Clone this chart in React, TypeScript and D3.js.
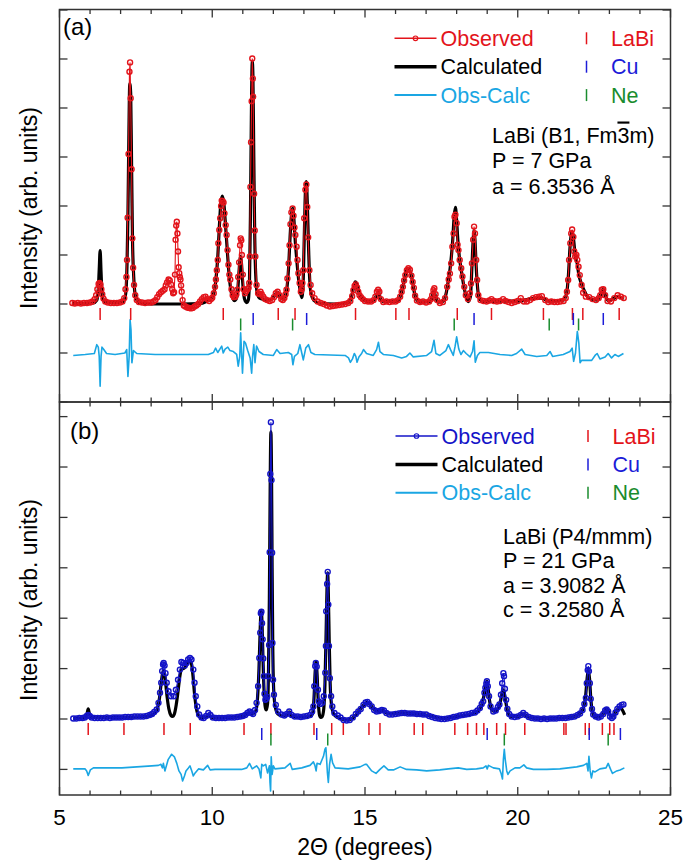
import React from "react";
import * as d3 from "d3";

// ---------------- DATA ----------------
const X_DOMAIN = [5, 25];
const X_TICK_LABELS = [5, 10, 15, 20, 25];
const X_MINOR = d3.range(5, 26, 1);

const Y_DOMAIN_A = [-2, 6.01];
const Y_TICKS_A = [-2, -1, 0, 1, 2, 3, 4, 5, 6];
const Y_DOMAIN_B = [-1.508, 6.29];
const Y_TICKS_B = [-1, 0, 1, 2, 3, 4, 5, 6];

// Panel (a): LaBi B1, 7 GPa
const OBS_A: [number, number][] = [
  [5.42,0.02],[5.5,0.01],[5.6,0.02],[5.7,0.01],[5.8,0.02],[5.9,0.02],[6.0,0.03],[6.08,0.05],[6.15,0.1],[6.2,0.18],[6.24,0.3],[6.28,0.41],[6.31,0.43],[6.34,0.4],[6.37,0.3],[6.4,0.2],[6.44,0.11],[6.5,0.05],[6.58,0.03],[6.68,0.02],[6.78,0.02],[6.88,0.02],[6.98,0.03],[7.06,0.05],[7.12,0.12],[7.16,0.3],[7.19,0.55],[7.21,0.9],[7.23,1.76],[7.26,3.06],[7.29,4.74],[7.31,4.93],[7.33,4.2],[7.36,2.75],[7.385,1.34],[7.41,0.74],[7.44,0.39],[7.48,0.18],[7.53,0.08],[7.6,0.04],[7.7,0.03],[7.8,0.02],[7.9,0.03],[8.0,0.03],[8.08,0.05],[8.14,0.08],[8.2,0.14],[8.26,0.2],[8.32,0.24],[8.38,0.27],[8.44,0.3],[8.48,0.38],[8.52,0.44],[8.57,0.5],[8.61,0.48],[8.65,0.4],[8.69,0.3],[8.72,0.22],[8.75,0.24],[8.78,0.6],[8.8,1.31],[8.82,1.6],[8.84,1.68],[8.86,1.44],[8.88,1.07],[8.9,0.75],[8.92,0.63],[8.94,0.55],[8.96,0.5],[8.98,0.38],[9.0,0.25],[9.03,0.08],[9.07,-0.03],[9.12,-0.05],[9.18,-0.07],[9.24,-0.08],[9.3,-0.09],[9.36,-0.08],[9.42,-0.05],[9.48,-0.03],[9.54,0.0],[9.6,0.05],[9.66,0.1],[9.72,0.14],[9.78,0.15],[9.84,0.1],[9.9,0.06],[9.96,0.1],[10.0,0.13],[10.05,0.22],[10.09,0.35],[10.12,0.5],[10.15,0.69],[10.18,0.9],[10.2,1.24],[10.23,1.51],[10.26,1.75],[10.29,2.0],[10.31,2.11],[10.34,2.1],[10.37,2.07],[10.4,1.85],[10.44,1.61],[10.47,1.41],[10.5,1.1],[10.53,0.8],[10.56,0.6],[10.59,0.5],[10.63,0.3],[10.67,0.18],[10.71,0.14],[10.75,0.15],[10.79,0.2],[10.82,0.29],[10.85,0.55],[10.88,0.85],[10.91,1.2],[10.93,1.34],[10.95,1.3],[10.97,1.0],[11.0,0.6],[11.03,0.3],[11.07,0.22],[11.11,0.26],[11.15,0.3],[11.19,0.33],[11.21,0.43],[11.23,0.97],[11.25,2.39],[11.27,3.3],[11.29,4.14],[11.31,5.01],[11.33,4.6],[11.34,4.23],[11.37,2.25],[11.39,1.5],[11.41,0.97],[11.45,0.39],[11.5,0.22],[11.55,0.2],[11.58,0.25],[11.62,0.2],[11.67,0.15],[11.73,0.1],[11.8,0.08],[11.88,0.06],[11.96,0.08],[12.02,0.14],[12.08,0.22],[12.14,0.25],[12.2,0.18],[12.26,0.1],[12.31,0.08],[12.36,0.12],[12.4,0.2],[12.43,0.29],[12.46,0.52],[12.5,0.83],[12.53,1.2],[12.56,1.63],[12.59,1.87],[12.63,1.95],[12.66,1.8],[12.69,1.56],[12.72,1.41],[12.76,1.17],[12.79,0.9],[12.82,0.63],[12.86,0.43],[12.9,0.25],[12.93,0.3],[12.95,0.43],[12.98,0.69],[13.01,1.75],[13.05,2.33],[13.08,2.44],[13.11,1.98],[13.14,1.36],[13.18,0.69],[13.22,0.39],[13.27,0.22],[13.35,0.12],[13.45,0.05],[13.55,0.02],[13.65,0.0],[13.75,-0.03],[13.85,-0.05],[13.95,-0.04],[14.05,-0.03],[14.15,-0.02],[14.25,-0.01],[14.35,0.0],[14.45,0.02],[14.52,0.06],[14.58,0.16],[14.62,0.28],[14.66,0.37],[14.7,0.4],[14.74,0.34],[14.78,0.25],[14.82,0.18],[14.87,0.14],[14.93,0.1],[15.0,0.06],[15.1,0.05],[15.2,0.05],[15.28,0.08],[15.34,0.15],[15.39,0.25],[15.43,0.29],[15.47,0.25],[15.52,0.1],[15.6,0.04],[15.7,0.05],[15.8,0.04],[15.9,0.05],[16.0,0.05],[16.08,0.08],[16.15,0.15],[16.2,0.25],[16.24,0.35],[16.28,0.48],[16.32,0.59],[16.37,0.69],[16.42,0.73],[16.47,0.7],[16.52,0.58],[16.56,0.45],[16.6,0.33],[16.64,0.17],[16.7,0.07],[16.8,0.04],[16.9,0.05],[17.0,0.03],[17.1,0.05],[17.16,0.1],[17.2,0.18],[17.24,0.28],[17.27,0.32],[17.31,0.2],[17.36,0.08],[17.45,0.02],[17.55,0.04],[17.62,0.12],[17.69,0.35],[17.74,0.5],[17.78,0.62],[17.82,0.83],[17.86,1.17],[17.9,1.44],[17.93,1.78],[17.96,1.82],[18.0,1.65],[18.03,1.21],[18.06,1.1],[18.1,0.9],[18.15,0.73],[18.19,0.56],[18.25,0.35],[18.3,0.18],[18.37,0.1],[18.43,0.22],[18.47,0.42],[18.5,0.83],[18.54,1.31],[18.57,1.58],[18.6,1.44],[18.64,0.9],[18.67,0.49],[18.71,0.18],[18.78,0.08],[18.88,0.06],[18.98,0.05],[19.07,0.07],[19.14,0.1],[19.22,0.06],[19.32,0.05],[19.42,0.06],[19.52,0.1],[19.6,0.06],[19.7,0.04],[19.8,0.02],[19.9,0.04],[20.0,0.06],[20.1,0.12],[20.2,0.05],[20.3,0.05],[20.4,0.08],[20.5,0.12],[20.6,0.14],[20.7,0.15],[20.79,0.16],[20.9,0.08],[21.0,0.04],[21.1,0.05],[21.2,0.04],[21.3,0.04],[21.4,0.05],[21.5,0.06],[21.57,0.12],[21.61,0.25],[21.65,0.49],[21.68,0.9],[21.72,1.24],[21.75,1.44],[21.78,1.52],[21.82,1.37],[21.85,1.07],[21.88,0.97],[21.92,1.0],[21.95,0.9],[21.99,0.76],[22.03,0.59],[22.09,0.39],[22.14,0.23],[22.23,0.15],[22.34,0.14],[22.45,0.1],[22.56,0.08],[22.65,0.12],[22.7,0.18],[22.75,0.29],[22.8,0.3],[22.86,0.18],[22.94,0.06],[23.05,0.05],[23.16,0.12],[23.27,0.18],[23.38,0.15],[23.47,0.12]
];
const CALC_A: [number, number][] = [
  [5.42,0.01],[6.1,0.02],[6.22,0.08],[6.27,0.3],[6.3,0.7],[6.33,1.09],[6.36,0.65],[6.39,0.25],[6.44,0.08],[6.55,0.03],[7.05,0.03],[7.13,0.1],[7.18,0.3],[7.21,0.8],[7.24,1.8],[7.27,3.4],[7.3,4.5],[7.33,4.3],[7.36,2.8],[7.39,1.3],[7.43,0.55],[7.48,0.18],[7.55,0.06],[7.65,0.02],[8.0,0.0],[9.0,0.0],[9.6,0.01],[9.8,0.05],[9.95,0.1],[10.05,0.22],[10.12,0.5],[10.18,0.95],[10.23,1.55],[10.28,2.05],[10.33,2.2],[10.38,2.05],[10.43,1.65],[10.48,1.2],[10.53,0.75],[10.58,0.42],[10.64,0.18],[10.72,0.07],[10.78,0.1],[10.83,0.25],[10.87,0.6],[10.91,0.92],[10.93,0.97],[10.96,0.8],[10.99,0.5],[11.03,0.2],[11.08,0.06],[11.13,0.03],[11.18,0.08],[11.22,0.5],[11.25,1.8],[11.28,3.8],[11.31,4.95],[11.33,4.7],[11.36,3.0],[11.39,1.4],[11.43,0.5],[11.48,0.2],[11.55,0.12],[11.65,0.1],[11.8,0.08],[11.95,0.1],[12.05,0.18],[12.14,0.24],[12.22,0.15],[12.3,0.1],[12.38,0.15],[12.44,0.3],[12.5,0.75],[12.55,1.4],[12.59,1.8],[12.63,1.95],[12.67,1.75],[12.71,1.35],[12.76,0.95],[12.81,0.6],[12.87,0.3],[12.93,0.13],[12.97,0.35],[13.01,1.3],[13.05,2.3],[13.08,2.5],[13.11,2.1],[13.15,1.2],[13.19,0.5],[13.24,0.2],[13.32,0.08],[13.5,0.02],[14.0,0.0],[14.45,0.02],[14.55,0.12],[14.62,0.32],[14.68,0.45],[14.72,0.42],[14.78,0.28],[14.86,0.15],[14.95,0.08],[15.1,0.05],[15.3,0.08],[15.4,0.22],[15.44,0.26],[15.5,0.12],[15.6,0.05],[16.05,0.06],[16.15,0.15],[16.25,0.38],[16.33,0.62],[16.4,0.72],[16.47,0.68],[16.55,0.48],[16.62,0.22],[16.7,0.08],[16.8,0.04],[17.15,0.06],[17.22,0.2],[17.26,0.26],[17.31,0.15],[17.4,0.04],[17.55,0.05],[17.65,0.2],[17.72,0.45],[17.8,0.8],[17.87,1.3],[17.92,1.8],[17.96,1.97],[18.0,1.7],[18.04,1.3],[18.09,0.95],[18.15,0.7],[18.22,0.42],[18.3,0.18],[18.38,0.05],[18.45,0.15],[18.5,0.75],[18.54,1.3],[18.57,1.5],[18.6,1.3],[18.64,0.75],[18.69,0.3],[18.75,0.1],[18.9,0.05],[19.5,0.06],[20.0,0.06],[20.6,0.12],[20.8,0.12],[21.0,0.06],[21.5,0.08],[21.6,0.22],[21.66,0.6],[21.71,1.15],[21.76,1.45],[21.79,1.47],[21.83,1.3],[21.88,1.0],[21.94,0.85],[22.0,0.6],[22.08,0.42],[22.17,0.28],[22.28,0.15],[22.4,0.1],[22.6,0.08],[22.72,0.2],[22.8,0.3],[22.88,0.15],[22.98,0.06],[23.1,0.1],[23.25,0.15],[23.38,0.13],[23.47,0.1]
];
const DIFF_A: [number, number][] = [
  [5.45,-0.05],[5.84,-0.03],[6.14,-0.01],[6.22,0.17],[6.27,0.12],[6.3,-0.07],[6.33,-0.68],[6.36,-0.07],[6.39,0.12],[6.45,0.07],[6.54,-0.01],[6.82,-0.03],[7.14,0.0],[7.2,0.07],[7.24,-0.48],[7.28,-0.07],[7.31,0.68],[7.34,0.48],[7.37,-0.2],[7.42,0.05],[7.53,-0.01],[8.13,-0.03],[9.87,-0.03],[10.04,0.01],[10.11,0.1],[10.18,0.01],[10.25,0.08],[10.31,0.14],[10.36,0.0],[10.42,0.08],[10.51,0.12],[10.58,0.05],[10.69,0.03],[10.8,-0.03],[10.85,-0.27],[10.9,-0.07],[10.93,0.41],[10.96,0.0],[10.99,-0.41],[11.04,0.24],[11.09,0.2],[11.16,0.05],[11.24,-0.1],[11.29,-0.41],[11.32,-0.07],[11.36,0.17],[11.4,-0.2],[11.45,0.14],[11.53,0.03],[11.67,-0.03],[12.0,-0.05],[12.11,0.07],[12.22,-0.01],[12.49,0.01],[12.6,-0.03],[12.64,-0.24],[12.69,-0.07],[12.8,-0.01],[12.87,0.17],[12.93,0.0],[12.98,-0.14],[13.06,0.1],[13.15,0.17],[13.23,0.01],[13.36,-0.03],[14.35,-0.05],[14.46,-0.1],[14.52,-0.19],[14.59,-0.12],[14.65,-0.01],[14.7,-0.07],[14.74,-0.19],[14.8,-0.08],[14.89,-0.01],[14.95,0.07],[15.05,-0.01],[15.27,-0.05],[15.38,0.07],[15.44,0.22],[15.49,0.03],[15.6,-0.03],[15.93,-0.05],[16.2,-0.1],[16.36,-0.07],[16.47,0.0],[16.58,-0.08],[17.02,-0.05],[17.18,0.03],[17.26,0.26],[17.32,-0.01],[17.45,-0.05],[17.65,0.05],[17.73,0.17],[17.8,0.07],[17.89,-0.05],[17.95,0.14],[18.0,0.33],[18.07,0.08],[18.14,-0.03],[18.22,0.05],[18.31,-0.01],[18.44,-0.08],[18.52,0.03],[18.57,0.25],[18.61,-0.19],[18.68,-0.05],[18.76,0.01],[19.04,0.01],[19.42,-0.03],[19.8,-0.05],[19.96,-0.01],[20.13,0.08],[20.24,-0.03],[20.62,-0.07],[20.95,-0.05],[21.06,0.03],[21.14,-0.07],[21.49,-0.03],[21.71,0.03],[21.78,0.1],[21.83,-0.17],[21.89,0.0],[21.95,0.44],[22.0,0.2],[22.04,-0.2],[22.09,-0.15],[22.26,-0.15],[22.42,-0.15],[22.53,-0.05],[22.6,-0.01],[22.69,-0.12],[22.86,-0.08],[22.96,-0.01],[23.07,-0.1],[23.18,-0.03],[23.29,-0.07],[23.46,-0.01]
];
const LABI_A = [6.33, 7.33, 10.36, 12.16, 12.71, 14.69, 16.01, 16.44, 18.02, 19.14, 20.84, 21.79, 22.13, 23.32];
const CU_A = [11.34, 13.09, 18.57, 21.82, 22.8];
const NE_A = [10.93, 12.63, 17.92, 21.03, 21.99];

// Panel (b): LaBi P4/mmm, 21 GPa
const OBS_B: [number, number][] = [
  [5.45,0.01],[5.55,0.01],[5.65,0.02],[5.75,0.02],[5.83,0.03],[5.89,0.06],[5.94,0.08],[5.99,0.06],[6.05,0.03],[6.15,0.02],[6.25,0.02],[6.35,0.02],[6.45,0.02],[6.55,0.03],[6.65,0.02],[6.75,0.03],[6.85,0.03],[6.95,0.03],[7.05,0.03],[7.15,0.04],[7.25,0.04],[7.35,0.04],[7.45,0.05],[7.55,0.05],[7.65,0.05],[7.75,0.05],[7.85,0.06],[7.95,0.08],[8.03,0.1],[8.1,0.14],[8.18,0.19],[8.24,0.32],[8.29,0.52],[8.33,0.72],[8.36,0.95],[8.39,1.08],[8.41,1.11],[8.44,1.06],[8.47,0.91],[8.51,0.72],[8.57,0.55],[8.65,0.45],[8.74,0.45],[8.81,0.58],[8.88,0.78],[8.94,0.98],[8.99,1.13],[9.05,1.11],[9.1,1.06],[9.16,1.11],[9.21,1.18],[9.27,1.21],[9.32,1.18],[9.38,0.98],[9.42,0.72],[9.46,0.45],[9.51,0.25],[9.57,0.09],[9.65,0.03],[9.72,0.02],[9.8,0.06],[9.87,0.12],[9.94,0.08],[10.02,0.03],[10.12,0.02],[10.22,0.02],[10.32,0.02],[10.42,0.02],[10.52,0.03],[10.62,0.03],[10.72,0.03],[10.82,0.04],[10.92,0.05],[11.0,0.06],[11.08,0.08],[11.15,0.12],[11.22,0.15],[11.28,0.12],[11.34,0.1],[11.4,0.18],[11.45,0.32],[11.5,0.65],[11.54,1.21],[11.57,1.71],[11.59,2.1],[11.61,2.13],[11.63,1.9],[11.65,1.58],[11.67,1.2],[11.69,0.85],[11.71,0.5],[11.74,0.38],[11.77,0.4],[11.8,0.44],[11.83,0.85],[11.86,1.47],[11.88,3.31],[11.9,4.86],[11.92,5.89],[11.94,4.74],[11.96,3.3],[11.97,1.51],[11.99,0.78],[12.02,0.48],[12.08,0.28],[12.16,0.15],[12.27,0.09],[12.36,0.07],[12.44,0.1],[12.52,0.15],[12.6,0.08],[12.7,0.05],[12.8,0.05],[12.9,0.04],[13.0,0.05],[13.1,0.06],[13.2,0.08],[13.27,0.15],[13.31,0.25],[13.34,0.65],[13.37,1.05],[13.39,1.11],[13.42,1.04],[13.46,0.58],[13.49,0.35],[13.54,0.3],[13.6,0.32],[13.65,0.45],[13.7,0.92],[13.72,1.45],[13.73,2.14],[13.76,2.68],[13.78,2.92],[13.8,2.27],[13.82,1.45],[13.85,0.81],[13.89,0.45],[13.93,0.25],[14.0,0.12],[14.11,0.07],[14.2,0.03],[14.3,-0.02],[14.4,-0.03],[14.5,-0.02],[14.6,0.03],[14.7,0.1],[14.78,0.15],[14.86,0.2],[14.95,0.28],[15.02,0.33],[15.08,0.34],[15.14,0.3],[15.22,0.25],[15.3,0.18],[15.38,0.15],[15.46,0.16],[15.55,0.18],[15.62,0.17],[15.7,0.12],[15.8,0.09],[15.9,0.09],[16.0,0.1],[16.1,0.11],[16.2,0.12],[16.3,0.12],[16.4,0.11],[16.5,0.11],[16.6,0.11],[16.7,0.1],[16.8,0.1],[16.9,0.09],[17.0,0.09],[17.1,0.06],[17.2,0.04],[17.3,0.02],[17.4,0.01],[17.5,0.0],[17.6,0.0],[17.7,0.01],[17.8,0.02],[17.9,0.04],[18.0,0.05],[18.1,0.07],[18.2,0.08],[18.3,0.09],[18.4,0.1],[18.5,0.12],[18.6,0.13],[18.68,0.17],[18.76,0.22],[18.82,0.3],[18.87,0.35],[18.91,0.52],[18.94,0.62],[18.97,0.7],[18.99,0.75],[19.02,0.65],[19.06,0.45],[19.11,0.25],[19.2,0.15],[19.28,0.17],[19.35,0.24],[19.4,0.29],[19.45,0.48],[19.49,0.71],[19.53,0.91],[19.55,0.85],[19.58,0.6],[19.62,0.38],[19.66,0.2],[19.72,0.1],[19.8,0.05],[19.9,0.04],[20.0,0.05],[20.1,0.08],[20.18,0.12],[20.26,0.08],[20.36,0.04],[20.46,0.02],[20.56,0.01],[20.66,0.01],[20.76,0.0],[20.86,0.01],[20.96,0.0],[21.06,0.01],[21.16,0.01],[21.26,0.01],[21.36,0.02],[21.46,0.02],[21.56,0.02],[21.66,0.03],[21.76,0.04],[21.86,0.05],[21.96,0.08],[22.04,0.11],[22.12,0.18],[22.18,0.3],[22.23,0.42],[22.26,0.71],[22.29,0.97],[22.31,1.05],[22.33,0.95],[22.36,0.71],[22.39,0.4],[22.43,0.2],[22.47,0.09],[22.55,0.05],[22.64,0.03],[22.72,0.05],[22.8,0.1],[22.86,0.17],[22.91,0.19],[22.96,0.15],[23.02,0.05],[23.08,0.02],[23.13,0.05],[23.2,0.13],[23.26,0.2],[23.33,0.25],[23.4,0.28],[23.46,0.29]
];
const CALC_B: [number, number][] = [
  [5.45,0.01],[5.85,0.03],[5.9,0.1],[5.94,0.2],[5.98,0.1],[6.05,0.03],[7.0,0.03],[7.8,0.05],[8.0,0.08],[8.12,0.12],[8.2,0.2],[8.27,0.4],[8.33,0.72],[8.38,0.92],[8.42,0.96],[8.46,0.8],[8.52,0.45],[8.58,0.2],[8.65,0.07],[8.7,0.05],[8.76,0.1],[8.82,0.28],[8.88,0.55],[8.94,0.85],[9.0,1.0],[9.06,1.0],[9.12,1.03],[9.2,1.12],[9.26,1.17],[9.32,1.1],[9.37,0.85],[9.42,0.5],[9.47,0.25],[9.54,0.08],[9.62,0.03],[9.8,0.04],[9.88,0.08],[9.96,0.04],[10.1,0.02],[11.0,0.05],[11.2,0.12],[11.3,0.1],[11.42,0.15],[11.48,0.4],[11.53,1.0],[11.57,1.8],[11.6,2.15],[11.63,1.9],[11.66,1.2],[11.7,0.5],[11.74,0.22],[11.77,0.18],[11.81,0.3],[11.84,0.9],[11.87,2.4],[11.9,4.9],[11.92,5.7],[11.94,4.9],[11.96,3.0],[11.98,1.5],[12.01,0.6],[12.06,0.25],[12.15,0.1],[12.3,0.06],[12.45,0.08],[12.52,0.14],[12.6,0.06],[12.8,0.04],[13.2,0.05],[13.28,0.1],[13.33,0.4],[13.37,0.95],[13.4,1.14],[13.43,0.9],[13.47,0.35],[13.51,0.08],[13.55,0.03],[13.6,0.05],[13.65,0.2],[13.69,0.7],[13.73,1.8],[13.76,2.7],[13.78,2.9],[13.8,2.5],[13.83,1.5],[13.86,0.7],[13.9,0.3],[13.96,0.12],[14.05,0.05],[14.2,0.01],[14.4,-0.02],[14.55,0.0],[14.7,0.08],[14.85,0.2],[15.0,0.3],[15.08,0.33],[15.15,0.3],[15.25,0.22],[15.35,0.17],[15.48,0.15],[15.56,0.17],[15.65,0.14],[15.8,0.1],[16.2,0.12],[16.6,0.1],[17.0,0.08],[17.3,0.03],[17.6,0.01],[18.0,0.05],[18.5,0.1],[18.7,0.17],[18.82,0.28],[18.9,0.48],[18.96,0.68],[18.99,0.75],[19.03,0.6],[19.08,0.35],[19.15,0.18],[19.25,0.15],[19.38,0.24],[19.45,0.4],[19.5,0.55],[19.53,0.58],[19.57,0.48],[19.62,0.3],[19.68,0.13],[19.78,0.05],[20.0,0.05],[20.18,0.1],[20.3,0.05],[20.6,0.01],[21.5,0.02],[21.9,0.06],[22.05,0.12],[22.15,0.22],[22.22,0.45],[22.27,0.8],[22.31,0.97],[22.35,0.8],[22.39,0.42],[22.44,0.15],[22.52,0.05],[22.7,0.05],[22.82,0.12],[22.9,0.2],[22.96,0.15],[23.04,0.06],[23.12,0.06],[23.2,0.13],[23.28,0.2],[23.36,0.22],[23.45,0.15],[23.5,0.08]
];
const DIFF_B: [number, number][] = [
  [5.45,0.01],[5.84,0.01],[5.89,-0.03],[5.94,-0.12],[6.01,-0.01],[6.11,0.03],[7.04,0.03],[8.02,0.07],[8.24,0.08],[8.32,0.1],[8.37,0.03],[8.4,0.12],[8.45,-0.03],[8.56,0.2],[8.67,0.3],[8.76,0.25],[8.84,0.12],[8.91,-0.03],[8.98,-0.1],[9.03,-0.23],[9.09,-0.13],[9.14,-0.03],[9.22,0.03],[9.27,0.07],[9.33,-0.03],[9.38,-0.13],[9.44,-0.07],[9.55,0.01],[9.71,-0.01],[9.85,0.08],[9.93,-0.01],[10.09,0.0],[10.96,0.0],[11.13,0.03],[11.22,0.12],[11.31,0.01],[11.45,0.07],[11.53,0.01],[11.59,-0.17],[11.62,0.1],[11.67,0.07],[11.75,0.1],[11.81,-0.07],[11.87,0.07],[11.89,-0.26],[11.91,-0.43],[11.93,0.25],[11.96,-0.1],[12.0,0.07],[12.05,0.01],[12.38,0.03],[12.55,0.12],[12.62,0.0],[12.93,0.03],[13.2,0.08],[13.31,0.15],[13.36,0.08],[13.4,-0.03],[13.43,0.12],[13.53,0.1],[13.64,0.26],[13.69,0.4],[13.72,0.43],[13.77,-0.07],[13.8,-0.26],[13.84,0.1],[13.89,0.3],[13.94,0.13],[14.02,0.03],[14.45,0.01],[14.84,0.05],[15.0,0.1],[15.05,0.1],[15.22,-0.03],[15.36,-0.08],[15.49,0.0],[15.62,0.07],[15.76,-0.01],[15.93,-0.01],[16.15,0.05],[16.36,0.0],[16.69,-0.01],[17.02,-0.03],[17.45,-0.01],[17.73,0.01],[18.05,0.03],[18.33,0.0],[18.65,0.01],[18.87,0.03],[18.96,0.07],[19.0,0.01],[19.04,0.08],[19.2,0.03],[19.4,0.01],[19.45,-0.07],[19.5,-0.19],[19.53,0.2],[19.56,0.4],[19.59,0.2],[19.64,-0.03],[19.68,-0.1],[19.75,-0.03],[19.91,0.03],[20.07,0.03],[20.2,0.09],[20.29,0.03],[20.51,0.0],[20.95,0.0],[21.38,0.01],[21.93,0.05],[22.15,0.08],[22.26,0.12],[22.3,-0.03],[22.33,0.26],[22.37,-0.03],[22.41,-0.17],[22.46,-0.03],[22.53,-0.05],[22.69,0.01],[22.89,0.03],[22.96,0.12],[23.04,0.0],[23.1,-0.08],[23.24,-0.03],[23.35,-0.01],[23.49,0.03]
];
const LABI_B = [5.94, 7.11, 8.42, 9.28, 11.04, 11.92, 13.33, 13.91, 14.29, 15.13, 15.49, 16.61, 16.89, 17.94, 18.36, 18.65, 18.89, 19.31, 19.6, 20.23, 21.51, 21.58, 22.21, 22.34, 22.77, 23.01, 23.15];
const CU_B = [11.62, 13.42, 19.0, 22.34, 23.36];
const NE_B = [11.92, 13.78, 19.56, 22.96];

const LEGEND_LABELS = ["Observed", "Calculated", "Obs-Calc"];
const PHASE_LABELS = ["LaBi", "Cu", "Ne"];
const ANNOT_A = ["LaBi (B1, Fm", "P = 7 GPa", "a = 6.3536 Å"];
const ANNOT_B = ["LaBi (P4/mmm)", "P = 21 GPa", "a = 3.9082 Å", "c = 3.2580 Å"];

// ---------------- STYLE ----------------
const FONT = "'Liberation Sans', Arial, Helvetica, sans-serif";
const RED = "#e3141b";
const BLUE = "#1414c8";
const CU_BLUE = "#1c1cd8";
const GREEN = "#1a8c2e";
const CYAN = "#1aa6e3";
const AXIS = "#333";

const X0 = 59.5, X1 = 670.5;

function Panel(props: any) {
  const { top, bottom, domain, yTicks, obs, calc, diff, phases, obsColor, label, labelX, labelY,
    legY, legX, tickLegX, annot, annotX, annotY, annotDy, isTop, yLabelY, x } = props;
  const y = d3.scaleLinear().domain(domain).range([bottom, top]);
  const lineLin = d3.line<[number, number]>().x(d => x(d[0])).y(d => y(d[1]));
  const lineSmooth = d3.line<[number, number]>().x(d => x(d[0])).y(d => y(d[1])).curve(d3.curveMonotoneX);
  const diffLine = d3.line<[number, number]>().x(d => x(d[0])).y(d => y(d[1] - 1));
  const base = y(0);
  const phaseColors = [RED, CU_BLUE, GREEN];
  const phaseOff = [[4, 16], [9, 21], [14.5, 26.5]];
  const legTextColors = [obsColor, "#000", CYAN];
  const phaseTextColors = [RED, CU_BLUE, GREEN];
  return (
    <g>
      <path d={diffLine(diff) || ""} fill="none" stroke={CYAN} strokeWidth={1.6} strokeLinejoin="round" />
      {phases.map((arr: number[], i: number) =>
        arr.map((p, j) => (
          <line key={`ph${i}-${j}`} x1={x(p)} x2={x(p)} y1={base + phaseOff[i][0]} y2={base + phaseOff[i][1]}
            stroke={phaseColors[i]} strokeWidth={1.5} />
        )))}
      <path d={lineSmooth(calc) || ""} fill="none" stroke="#000" strokeWidth={3.2} strokeLinejoin="round" />
      <path d={lineLin(obs) || ""} fill="none" stroke={obsColor} strokeWidth={1.1} />
      {obs.map((d: [number, number], i: number) => (
        <circle key={`o${i}`} cx={x(d[0])} cy={y(d[1])} r={2.5} fill="none" stroke={obsColor} strokeWidth={1.4} />
      ))}
      <rect x={X0} y={top} width={X1 - X0} height={bottom - top} fill="none" stroke={AXIS} strokeWidth={1.5} />
      {yTicks.map((t: number) => (
        <g key={`yt${t}`}>
          <line x1={X0} x2={X0 + 8} y1={y(t)} y2={y(t)} stroke={AXIS} strokeWidth={1.3} />
          <line x1={X1} x2={X1 - 8} y1={y(t)} y2={y(t)} stroke={AXIS} strokeWidth={1.3} />
        </g>
      ))}
      {X_MINOR.map((t: number) => {
        const major = t % 5 === 0;
        const len = major ? 8 : 4.5;
        return (
          <g key={`xt${t}`}>
            <line x1={x(t)} x2={x(t)} y1={top} y2={top + len} stroke={AXIS} strokeWidth={1.3} />
            <line x1={x(t)} x2={x(t)} y1={bottom} y2={bottom - len} stroke={AXIS} strokeWidth={1.3} />
          </g>
        );
      })}
      <text x={labelX} y={labelY} fontSize={24} fontFamily={FONT} fill="#000">{label}</text>
      {LEGEND_LABELS.map((lab, i) => {
        const ly = legY + i * 28.4;
        return (
          <g key={`lg${i}`}>
            <line x1={legX} x2={legX + 42} y1={ly} y2={ly}
              stroke={i === 0 ? obsColor : i === 1 ? "#000" : CYAN}
              strokeWidth={i === 0 ? 1.5 : i === 1 ? 3.5 : 2} />
            {i === 0 && <circle cx={legX + 21} cy={ly} r={2.3} fill="none" stroke={obsColor} strokeWidth={1.1} />}
            <text x={legX + 46} y={ly + 7.5} fontSize={21.5} fontFamily={FONT} fill={legTextColors[i]}>{lab}</text>
          </g>
        );
      })}
      {PHASE_LABELS.map((lab, i) => {
        const ly = legY + i * 28.4;
        return (
          <g key={`pl${i}`}>
            <line x1={tickLegX} x2={tickLegX} y1={ly - 6} y2={ly + 6} stroke={phaseColors[i]} strokeWidth={1.5} />
            <text x={tickLegX + 24.5} y={ly + 7.5} fontSize={21.5} fontFamily={FONT} fill={phaseTextColors[i]}>{lab}</text>
          </g>
        );
      })}
      {annot.map((s: string, i: number) => (
        <text key={`an${i}`} x={annotX} y={annotY + i * annotDy} fontSize={21.5} fontFamily={FONT} fill="#000">
          {s}
          {i === 0 && isTop ? (
            <>
              <tspan textDecoration="overline" style={{ textDecoration: "overline" }}>3</tspan>
              <tspan>m)</tspan>
            </>
          ) : null}
        </text>
      ))}
      <text transform={`translate(37,${yLabelY}) rotate(-90)`} textAnchor="middle" fontSize={23} fontFamily={FONT} fill="#000">
        Intensity (arb. units)
      </text>
    </g>
  );
}

export default function App() {
  const x = d3.scaleLinear().domain(X_DOMAIN).range([X0, X1]);
  return (
    <svg width={685} height={863} style={{ position: "absolute", left: 0, top: 0, background: "#fff" }}
      xmlns="http://www.w3.org/2000/svg">
      <rect x={0} y={0} width={685} height={863} fill="#fff" />
      <Panel x={x} top={9.5} bottom={402} domain={Y_DOMAIN_A} yTicks={Y_TICKS_A} obs={OBS_A} calc={CALC_A} diff={DIFF_A}
        phases={[LABI_A, CU_A, NE_A]} obsColor={RED} label="(a)" labelX={63} labelY={35}
        legY={38.3} legX={394.5} tickLegX={586.5} annot={ANNOT_A} annotX={492} annotY={142.5} annotDy={25.5}
        isTop={true} yLabelY={208} />
      <Panel x={x} top={402} bottom={795} domain={Y_DOMAIN_B} yTicks={Y_TICKS_B} obs={OBS_B} calc={CALC_B} diff={DIFF_B}
        phases={[LABI_B, CU_B, NE_B]} obsColor={BLUE} label="(b)" labelX={70} labelY={438.5}
        legY={436} legX={395.5} tickLegX={588} annot={ANNOT_B} annotX={503} annotY={543.5} annotDy={24.5}
        isTop={false} yLabelY={600} />
      {X_TICK_LABELS.map(t => (
        <text key={`xl${t}`} x={x(t)} y={825} textAnchor="middle" fontSize={22.5} fontFamily={FONT} fill="#000">{t}</text>
      ))}
      <text x={(X0 + X1) / 2} y={855} textAnchor="middle" fontSize={23} fontFamily={FONT} fill="#000">2Θ (degrees)</text>
    </svg>
  );
}
